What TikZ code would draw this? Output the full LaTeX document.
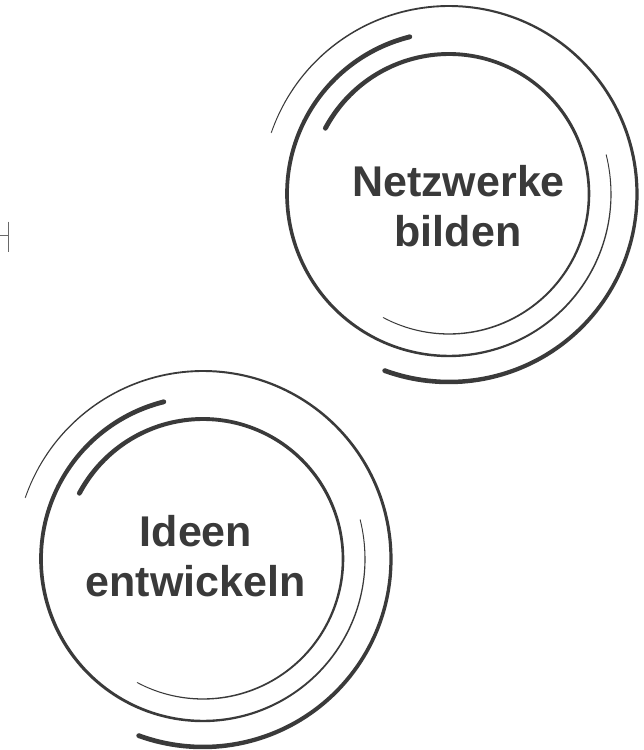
\documentclass[tikz,border=0pt]{standalone}
\usepackage{fontspec}
\setmainfont{Liberation Sans}
\definecolor{ink}{RGB}{58,58,58}
\definecolor{tickgray}{RGB}{105,105,105}
% Arc of radius #3 round (#1,#2) from angle #4 to #5, its width
% running linearly from #6 to #7, with round ends.
\newcommand\taperarc[7]{%
  \fill[ink] plot[domain=0:1,samples=160,variable=\t]
    ({#1+(#3+((#6)+((#7)-(#6))*\t)/2)*cos((#4)+((#5)-(#4))*\t)},
     {#2+(#3+((#6)+((#7)-(#6))*\t)/2)*sin((#4)+((#5)-(#4))*\t)})
    -- plot[domain=0:1,samples=160,variable=\t]
    ({#1+(#3-((#6)+((#7)-(#6))*(1-\t))/2)*cos((#4)+((#5)-(#4))*(1-\t))},
     {#2+(#3-((#6)+((#7)-(#6))*(1-\t))/2)*sin((#4)+((#5)-(#4))*(1-\t))})
    -- cycle;
  \fill[ink] ({#1+#3*cos(#4)},{#2+#3*sin(#4)}) circle[radius={(#6)*0.5pt}];
  \fill[ink] ({#1+#3*cos(#5)},{#2+#3*sin(#5)}) circle[radius={(#7)*0.5pt}];
}
% Three brush-like rings round one centre
\newcommand\ringset[2]{%
  \taperarc{#1}{#2}{188}{161}{-110}{0.9}{4.8}
  \taperarc{#1}{#2}{162}{104}{374}{4.8}{0.9}
  \taperarc{#1}{#2}{140}{152}{-118}{4.8}{0.9}
}
\begin{document}
\begin{tikzpicture}[x=1pt,y=1pt,
  caption/.style={font=\fontsize{43}{50}\selectfont\bfseries, text=ink,
    inner sep=0pt, anchor=base}]
\fill[white] (0,0) rectangle (643,750);
\useasboundingbox (0,0) rectangle (643,750);

% small mark at the left edge
\draw[tickgray, line width=1.5pt] (0,514.3) -- (8.3,514.3);
\draw[tickgray, line width=1.5pt] (8.3,528.3) -- (8.3,498.3);

% upper group
\ringset{449}{556}
\node[caption] (netz) at (458.5,553) {Netzwerke};
\node[caption] (bild) at (458,503) {bilden};

% lower group
\ringset{203}{191}
\node[caption] (idee) at (196,203) {Ideen};
\node[caption] (entw) at (195.5,153) {entwickeln};
\end{tikzpicture}
\end{document}
